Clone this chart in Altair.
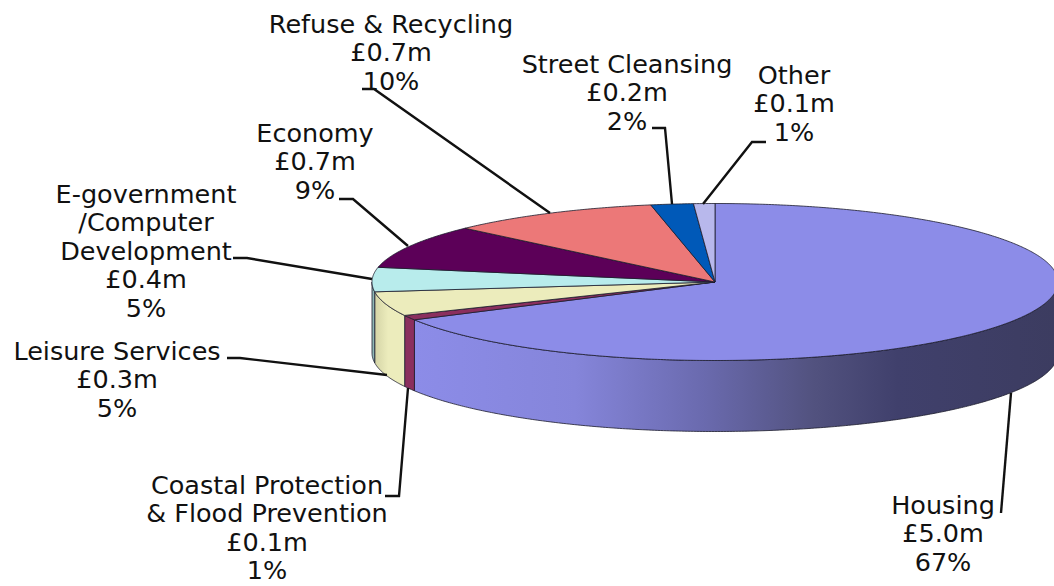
import math
import altair as alt

# Budget breakdown, clockwise from twelve o'clock
names = ["Housing", "Coastal Protection\n& Flood Prevention", "Leisure Services",
         "E-government\n/Computer\nDevelopment", "Economy", "Refuse & Recycling",
         "Street Cleansing", "Other"]
amounts = [5.0, 0.1, 0.3, 0.4, 0.7, 0.7, 0.2, 0.1]
percents = [67, 1, 5, 5, 9, 10, 2, 1]
colors = ["#8C8CE8", "#8B2F5E", "#ECECBC", "#B8ECEC", "#5C0058", "#EC7878", "#0059B8", "#B8B8EC"]

# Pixel layout of the tilted disc
CX, CY, RX, RY, DEPTH = 715, 282, 343, 78.5, 71

# Label anchors: horizontal centre and top of the first line
label_x = [943, 267, 117, 146, 315, 391, 627, 794]
label_y = [494, 474, 340, 183, 122, 13, 53, 64]

# Leader polylines, one per slice
leaders = [
    [(1001, 513), (1011, 393)],
    [(385, 496), (399, 496), (408, 388)],
    [(227, 358), (240, 358), (387, 375)],
    [(233, 258), (247, 258), (372, 279)],
    [(339, 199), (353, 199), (408, 246)],
    [(362, 89), (374, 89), (550, 213)],
    [(652, 128), (665, 128), (672, 204)],
    [(766, 142), (752, 142), (703, 204)],
]


def rim(deg, drop=0.0):
    t = math.radians(deg)
    return [CX + RX * math.sin(t), CY - RY * math.cos(t) + drop]


def arc(a, b, drop=0.0):
    n = max(2, int(abs(b - a) * 2))
    return [rim(a + (b - a) * i / n, drop) for i in range(n + 1)]


def feature(name, ring):
    return {"type": "Feature", "properties": {"name": name},
            "geometry": {"type": "Polygon", "coordinates": [ring + [ring[0]]]}}


tops, walls = [], []
start = 0.0
for name, pct in zip(names, percents):
    end = start + pct * 3.6
    tops.append(feature(name, [[CX, CY]] + arc(start, end)))
    lo, hi = max(start, 90), min(end, 270)
    if hi > lo:
        walls.append(feature(name, arc(lo, hi) + arc(hi, lo, DEPTH)))
    start = end

projection = alt.Projection(type="identity", scale=1, translate=[0, 0])
fill_scale = alt.Scale(domain=names, range=colors)
edge = {"stroke": "#1c1c2c", "strokeWidth": 0.8}

housing_shade = alt.LinearGradient(
    gradient="linear", x1=0, x2=1, y1=0, y2=0,
    stops=[alt.GradientStop(offset=0, color="#8C8CE8"),
           alt.GradientStop(offset=0.25, color="#8585DA"),
           alt.GradientStop(offset=0.45, color="#6A6AAE"),
           alt.GradientStop(offset=0.62, color="#52527F"),
           alt.GradientStop(offset=0.75, color="#40406C"),
           alt.GradientStop(offset=1, color="#3C3C60")])
leisure_shade = alt.LinearGradient(
    gradient="linear", x1=0, x2=1, y1=0, y2=0,
    stops=[alt.GradientStop(offset=0, color="#D4D4A6"),
           alt.GradientStop(offset=0.45, color="#ECECBC"),
           alt.GradientStop(offset=1, color="#ECECBC")])

housing_wall = alt.Chart(alt.Data(values=walls[:1])).mark_geoshape(
    fill=housing_shade, **edge).project(**projection.to_dict())
coastal_wall = alt.Chart(alt.Data(values=walls[1:2])).mark_geoshape(
    fill=colors[1], **edge).project(**projection.to_dict())
leisure_wall = alt.Chart(alt.Data(values=walls[2:3])).mark_geoshape(
    fill=leisure_shade, **edge).project(**projection.to_dict())
egov_wall = alt.Chart(alt.Data(values=walls[3:])).mark_geoshape(
    fill="#8FB8B8", **edge).project(**projection.to_dict())

top_faces = alt.Chart(alt.Data(values=tops)).mark_geoshape(**edge).encode(
    fill=alt.Fill("properties.name:N", scale=fill_scale, legend=None)
).project(**projection.to_dict())

leader_features = [
    {"type": "Feature", "properties": {"name": n},
     "geometry": {"type": "LineString", "coordinates": [list(p) for p in pts]}}
    for n, pts in zip(names, leaders)
]
leader_lines = alt.Chart(alt.Data(values=leader_features)).mark_geoshape(
    filled=False, stroke="#111111", strokeWidth=2.4
).project(**projection.to_dict())

label_rows = [
    {"label": f"{n}\n£{a:.1f}m\n{p}%", "lx": x, "ly": y}
    for n, a, p, x, y in zip(names, amounts, percents, label_x, label_y)
]
labels = alt.Chart(alt.Data(values=label_rows)).mark_text(
    font="DejaVu Sans", fontSize=25.5, color="#111111", align="center",
    baseline="top", lineBreak="\n", lineHeight=28.4
).encode(
    longitude=alt.Longitude("lx:Q"),
    latitude=alt.Latitude("ly:Q"),
    text=alt.Text("label:N"),
).project(**projection.to_dict())

chart = alt.layer(
    housing_wall, coastal_wall, leisure_wall, egov_wall, top_faces, leader_lines, labels
).properties(
    width=1054, height=586, padding=0, autosize=alt.AutoSizeParams(type="none"),
    background="white"
).configure_view(stroke=None)

chart.save("out.html", embed_options={"renderer": "svg", "actions": False})
